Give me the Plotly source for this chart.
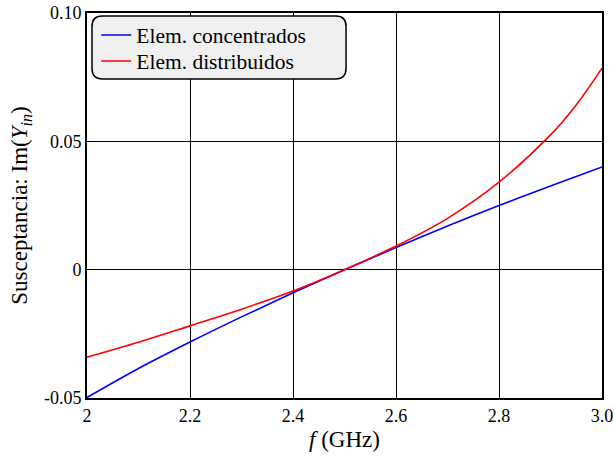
import plotly.graph_objects as go

freq_ghz = [2.0, 2.1, 2.2, 2.3, 2.4, 2.5, 2.6, 2.7, 2.8, 2.9, 2.95, 3.0]
b_concentrados = [-0.0498, -0.0385, -0.0282, -0.0184, -0.0090, 0.0, 0.0086, 0.0170, 0.0250, 0.0326, 0.0363, 0.0400]
b_distribuidos = [-0.0341, -0.0283, -0.0219, -0.0154, -0.0083, 0.0, 0.0092, 0.0200, 0.0341, 0.0525, 0.0642, 0.0785]

x_ticks = [2.0, 2.2, 2.4, 2.6, 2.8, 3.0]
x_ticklabels = ["2", "2.2", "2.4", "2.6", "2.8", "3.0"]
y_ticks = [-0.05, 0.0, 0.05, 0.10]
y_ticklabels = ["-0.05", "0", "0.05", "0.10"]

FONT = "Liberation Serif, Times New Roman, serif"

fig = go.Figure()
fig.add_trace(go.Scatter(x=freq_ghz, y=b_concentrados, mode="lines", name="Elem. concentrados",
                         line=dict(color="#0000ff", width=1.6, shape="spline"), legend="legend"))
fig.add_trace(go.Scatter(x=freq_ghz, y=b_distribuidos, mode="lines", name="Elem. distribuidos",
                         line=dict(color="#ff0000", width=1.6, shape="spline"), legend="legend2"))

# rounded legend box
x0, x1, y0, y1 = 0.0097, 0.503, 0.8286, 0.992
rx, ry = 0.02, 0.027
path = (f"M {x0+rx},{y1} L {x1-rx},{y1} Q {x1},{y1} {x1},{y1-ry} "
        f"L {x1},{y0+ry} Q {x1},{y0} {x1-rx},{y0} L {x0+rx},{y0} "
        f"Q {x0},{y0} {x0},{y0+ry} L {x0},{y1-ry} Q {x0},{y1} {x0+rx},{y1} Z")
fig.add_shape(type="path", path=path, xref="paper", yref="paper",
              fillcolor="#f0f0f0", line=dict(color="black", width=1.5), layer="above")

leg_common = dict(x=0.018, xanchor="left", yanchor="middle",
                  bgcolor="rgba(0,0,0,0)", borderwidth=0,
                  font=dict(family=FONT, size=21.5), itemwidth=30)

fig.update_layout(
    width=614, height=462,
    autosize=False,
    margin=dict(l=87, r=12, t=13, b=64, autoexpand=False),
    plot_bgcolor="white", paper_bgcolor="white",
    font=dict(family=FONT, size=18, color="black"),
    showlegend=True,
    legend=dict(y=0.9429, **leg_common),
    legend2=dict(y=0.8753, **leg_common),
    xaxis=dict(range=[2, 3], tickvals=x_ticks, ticktext=x_ticklabels,
               showgrid=True, gridcolor="black", gridwidth=1,
               showline=True, linecolor="black", linewidth=2, mirror=True,
               ticks="", zeroline=False, automargin=False,
               tickfont=dict(family=FONT, size=18),
               title=dict(text="<i>f</i> (GHz)", font=dict(family=FONT, size=23), standoff=6)),
    yaxis=dict(range=[-0.05, 0.10], tickvals=y_ticks, ticktext=y_ticklabels,
               showgrid=True, gridcolor="black", gridwidth=1,
               showline=True, linecolor="black", linewidth=2, mirror=True,
               ticks="", zeroline=False, automargin=False,
               tickfont=dict(family=FONT, size=18),
               title=dict(text="Susceptancia: Im(<i>Y</i><sub><i>in</i></sub>)",
                          font=dict(family=FONT, size=23), standoff=10)),
)

fig.write_html("out.html", config={"responsive": False})
